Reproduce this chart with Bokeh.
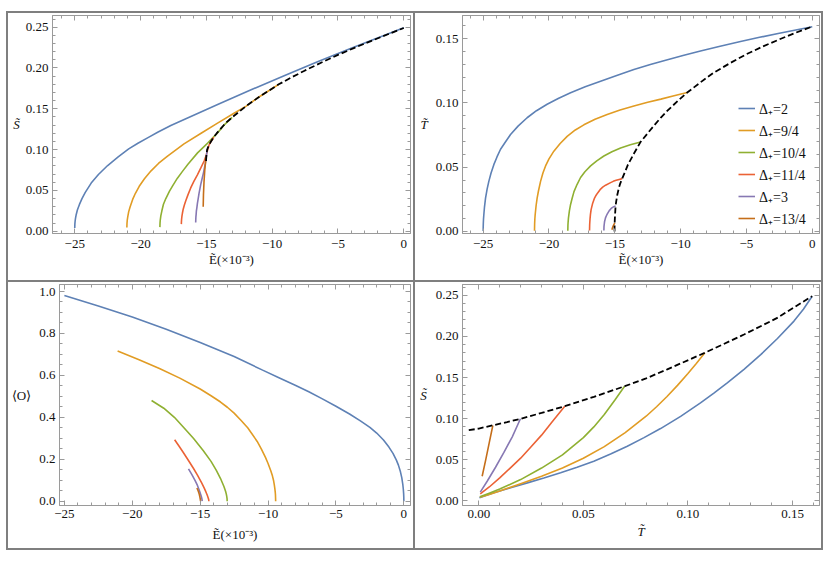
from bokeh.plotting import figure
from bokeh.models import (Range1d, LinearAxis, SingleIntervalTicker, CustomJSTickFormatter,
                          Legend, LegendItem, Spacer)
from bokeh.layouts import row, column
from bokeh.embed import file_html
from bokeh.resources import INLINE

# ---------------- data ----------------
labels = ["Δ₊=2", "Δ₊=9/4", "Δ₊=10/4", "Δ₊=11/4", "Δ₊=3", "Δ₊=13/4"]
colors = ["#5E81B5", "#E19C24", "#8FB032", "#EB6235", "#8778B3", "#C56E1A"]

# top-left: S vs E (x10^-3)
tl_blue_E = [-25.0, -24.99, -24.97, -24.94, -24.9, -24.8, -24.65, -24.45, -24.2, -23.75, -23.2, -22.5, -21.7, -20.9, -20.2, -19.4, -18.7, -17.7, -16.6, -14.1, -11.6, -9.0, -6.6, -4.0, -2.0, 0.0]
tl_blue_S = [0.004, 0.009, 0.0125, 0.016, 0.0195, 0.026, 0.0325, 0.040, 0.0475, 0.059, 0.0695, 0.0805, 0.091, 0.1008, 0.1078, 0.115, 0.1212, 0.1295, 0.1375, 0.1555, 0.1733, 0.1912, 0.2073, 0.2242, 0.2368, 0.2492]
tl_orange_E = [-21.04, -21.03, -21.01, -20.97, -20.9, -20.79, -20.6, -20.39, -20.1, -19.69, -19.2, -18.64, -17.95, -16.7, -15.4, -14.15, -12.9, -12.0, -11.0, -10.2, -9.5]
tl_orange_S = [0.0045, 0.0097, 0.0135, 0.018, 0.024, 0.030, 0.039, 0.0465, 0.055, 0.0645, 0.074, 0.083, 0.092, 0.107, 0.120, 0.1325, 0.1445, 0.153, 0.1645, 0.1727, 0.180]
tl_green_E = [-18.53, -18.52, -18.5, -18.46, -18.38, -18.26, -18.08, -17.8, -17.53, -17.2, -16.83, -16.4, -15.67, -14.9, -14.15, -13.6, -13.04]
tl_green_S = [0.005, 0.0102, 0.014, 0.0187, 0.025, 0.033, 0.040, 0.049, 0.0565, 0.065, 0.073, 0.082, 0.096, 0.108, 0.1205, 0.131, 0.1395]
tl_red_E = [-16.9, -16.895, -16.88, -16.855, -16.82, -16.76, -16.67, -16.57, -16.4, -16.19, -15.95, -15.68, -15.42, -15.17, -15.03, -14.92, -14.8, -14.6, -14.44]
tl_red_S = [0.0087, 0.0115, 0.015, 0.0185, 0.022, 0.027, 0.032, 0.037, 0.0445, 0.053, 0.061, 0.069, 0.0775, 0.086, 0.092, 0.0985, 0.1055, 0.1112, 0.1152]
tl_purple_E = [-15.81, -15.805, -15.795, -15.775, -15.76, -15.72, -15.68, -15.62, -15.56, -15.43, -15.33, -15.22, -15.08, -14.99, -14.94]
tl_purple_S = [0.0107, 0.014, 0.0175, 0.021, 0.0245, 0.029, 0.034, 0.040, 0.046, 0.057, 0.064, 0.0715, 0.083, 0.093, 0.0999]
tl_brown_E = [-15.24, -15.22, -15.18, -15.12, -15.06, -15.01]
tl_brown_S = [0.030, 0.045, 0.060, 0.075, 0.085, 0.0917]
tl_dash_E = [-15.02, -15.018, -15.012, -15.0, -14.985, -14.97, -14.94, -14.88, -14.8, -14.7, -14.6, -14.44, -14.22, -14.0, -13.75, -13.5, -13.04, -12.5, -12.0, -11.0, -10.2, -9.5, -8.5, -7.5, -6.25, -5.0, -3.75, -2.5, -1.25, 0.0]
tl_dash_S = [0.086, 0.0878, 0.0898, 0.0917, 0.0945, 0.0965, 0.0999, 0.1025, 0.1055, 0.1085, 0.1112, 0.1152, 0.1198, 0.124, 0.1286, 0.133, 0.1395, 0.1465, 0.153, 0.1645, 0.1727, 0.180, 0.1887, 0.197, 0.2067, 0.216, 0.2247, 0.233, 0.241, 0.249]

# top-right: T vs E
tr_blue_E = [-25.0, -24.997, -24.99, -24.975, -24.95, -24.9, -24.82, -24.7, -24.57, -24.4, -24.19, -23.95, -23.68, -23.35, -22.92, -22.35, -21.66, -20.95, -20.14, -19.3, -18.36, -17.25, -16.08, -14.8, -13.55, -12.3, -11.0, -9.75, -8.49, -7.0, -5.45, -4.0, -2.5, -1.25, 0.0]
tr_blue_T = [0.0003, 0.0035, 0.006, 0.0095, 0.013, 0.019, 0.026, 0.033, 0.039, 0.0455, 0.052, 0.058, 0.064, 0.069, 0.0755, 0.082, 0.0885, 0.094, 0.099, 0.1035, 0.108, 0.1126, 0.117, 0.1216, 0.126, 0.130, 0.1337, 0.1372, 0.1405, 0.1442, 0.1478, 0.1511, 0.1543, 0.1568, 0.1593]
tr_orange_E = [-21.1, -21.09, -21.075, -21.05, -20.98, -20.9, -20.8, -20.64, -20.46, -20.26, -20.0, -19.63, -19.15, -18.62, -18.0, -17.35, -16.5, -15.58, -14.6, -13.55, -12.5, -11.5, -10.5, -9.5]
tr_orange_T = [0.0005, 0.006, 0.0095, 0.013, 0.020, 0.026, 0.0315, 0.039, 0.0455, 0.051, 0.0565, 0.0625, 0.0685, 0.074, 0.079, 0.083, 0.0873, 0.091, 0.0945, 0.0976, 0.1005, 0.103, 0.1056, 0.1081]
tr_green_E = [-18.57, -18.56, -18.545, -18.52, -18.45, -18.36, -18.25, -18.1, -17.87, -17.6, -17.27, -16.84, -16.37, -15.83, -15.22, -14.56, -13.82, -13.04]
tr_green_T = [0.0005, 0.005, 0.0075, 0.0106, 0.016, 0.021, 0.0255, 0.031, 0.0365, 0.042, 0.0465, 0.051, 0.055, 0.0587, 0.062, 0.065, 0.0675, 0.0697]
tr_red_E = [-16.92, -16.91, -16.9, -16.88, -16.85, -16.8, -16.68, -16.54, -16.42, -16.3, -16.08, -15.92, -15.7, -15.32, -15.12, -14.9, -14.67, -14.44]
tr_red_T = [0.0007, 0.005, 0.007, 0.010, 0.0133, 0.017, 0.022, 0.026, 0.0282, 0.030, 0.033, 0.0345, 0.036, 0.038, 0.039, 0.0398, 0.0405, 0.0411]
tr_purple_E = [-15.83, -15.825, -15.82, -15.8, -15.78, -15.74, -15.70, -15.64, -15.58, -15.5, -15.42, -15.31, -15.2, -15.07, -14.94]
tr_purple_T = [0.0007, 0.0025, 0.004, 0.0058, 0.0075, 0.0092, 0.0108, 0.0122, 0.0135, 0.0149, 0.0162, 0.0175, 0.0185, 0.0193, 0.0199]
tr_brown_E = [-15.22, -15.17, -15.1, -15.0]
tr_brown_T = [0.0013, 0.003, 0.0048, 0.0067]
tr_dash_E = [-15.02, -15.018, -15.012, -15.0, -14.97, -14.94, -14.89, -14.8, -14.7, -14.6, -14.44, -14.22, -14.0, -13.5, -13.04, -12.5, -12.0, -11.5, -11.0, -10.2, -9.5, -8.5, -7.5, -6.25, -5.0, -3.75, -2.5, -1.25, 0.0]
tr_dash_T = [0.0, 0.003, 0.0058, 0.0093, 0.0148, 0.0199, 0.0236, 0.029, 0.0335, 0.037, 0.0411, 0.0465, 0.052, 0.0615, 0.0697, 0.0765, 0.0827, 0.0886, 0.094, 0.1018, 0.1081, 0.116, 0.1235, 0.131, 0.138, 0.144, 0.1495, 0.1547, 0.1595]

# bottom-left: <O> vs E
bl_blue_E = [-25.0, -22.5, -20.0, -17.5, -15.0, -12.5, -10.4, -9.2, -8.0, -7.0, -6.0, -5.0, -4.0, -3.2, -2.5, -2.0, -1.5, -1.1, -0.8, -0.55, -0.4, -0.25, -0.15, -0.08, -0.04, -0.015, -0.004, 0.0]
bl_blue_O = [0.981, 0.931, 0.878, 0.820, 0.757, 0.690, 0.625, 0.589, 0.553, 0.522, 0.488, 0.453, 0.416, 0.383, 0.352, 0.325, 0.292, 0.258, 0.228, 0.196, 0.172, 0.140, 0.111, 0.082, 0.058, 0.036, 0.019, 0.0]
bl_orange_E = [-21.08, -19.5, -18.0, -16.5, -15.0, -14.2, -13.5, -13.0, -12.5, -12.0, -11.5, -10.8, -10.5, -10.2, -10.0, -9.8, -9.68, -9.6, -9.54, -9.5, -9.47, -9.455, -9.44]
bl_orange_O = [0.716, 0.675, 0.633, 0.587, 0.535, 0.503, 0.473, 0.448, 0.420, 0.386, 0.350, 0.285, 0.250, 0.210, 0.180, 0.145, 0.121, 0.100, 0.078, 0.060, 0.0425, 0.030, 0.0]
bl_green_E = [-18.58, -17.68, -16.9, -16.23, -15.5, -14.78, -14.2, -13.81, -13.5, -13.36, -13.25, -13.18, -13.12, -13.08, -13.05, -13.02, -13.01]
bl_green_O = [0.48, 0.4435, 0.40, 0.353, 0.30, 0.242, 0.190, 0.147, 0.108, 0.087, 0.070, 0.057, 0.045, 0.035, 0.025, 0.0125, 0.0]
bl_red_E = [-16.88, -16.55, -16.23, -15.85, -15.5, -15.2, -14.89, -14.7, -14.61, -14.53, -14.47, -14.42, -14.39, -14.37, -14.36]
bl_red_O = [0.293, 0.262, 0.231, 0.193, 0.157, 0.124, 0.087, 0.062, 0.049, 0.037, 0.027, 0.018, 0.012, 0.007, 0.0]
bl_purple_E = [-15.86, -15.62, -15.38, -15.2, -15.06, -14.95, -14.91, -14.88, -14.86, -14.85]
bl_purple_O = [0.154, 0.128, 0.099, 0.075, 0.051, 0.030, 0.021, 0.013, 0.006, 0.0]
bl_brown_E = [-15.24, -15.15, -15.07, -15.02, -14.99, -14.97]
bl_brown_O = [0.063, 0.050, 0.034, 0.020, 0.009, 0.0]

# bottom-right: S vs T
br_blue_T = [0.0003, 0.0072, 0.0152, 0.0232, 0.0311, 0.0391, 0.047, 0.055, 0.063, 0.071, 0.079, 0.0869, 0.0965, 0.106, 0.1124, 0.1188, 0.1268, 0.1348, 0.1428, 0.1507, 0.1552, 0.1594]
br_blue_S = [0.0039, 0.0099, 0.016, 0.022, 0.028, 0.0343, 0.041, 0.0484, 0.057, 0.0666, 0.077, 0.088, 0.1029, 0.1192, 0.1310, 0.1435, 0.1600, 0.1778, 0.1975, 0.2186, 0.2330, 0.2489]
br_orange_T = [0.0005, 0.005, 0.010, 0.020, 0.030, 0.040, 0.050, 0.060, 0.070, 0.080, 0.085, 0.090, 0.095, 0.100, 0.104, 0.1081]
br_orange_S = [0.0045, 0.008, 0.012, 0.021, 0.030, 0.040, 0.052, 0.066, 0.083, 0.103, 0.1145, 0.127, 0.1405, 0.155, 0.167, 0.180]
br_green_T = [0.0005, 0.005, 0.010, 0.020, 0.030, 0.040, 0.050, 0.055, 0.060, 0.065, 0.0697]
br_green_S = [0.005, 0.0095, 0.0145, 0.026, 0.040, 0.056, 0.077, 0.090, 0.105, 0.1225, 0.1395]
br_red_T = [0.0007, 0.005, 0.010, 0.015, 0.020, 0.025, 0.030, 0.035, 0.0411]
br_red_S = [0.0087, 0.017, 0.028, 0.040, 0.052, 0.066, 0.080, 0.096, 0.1152]
br_purple_T = [0.0007, 0.004, 0.008, 0.012, 0.016, 0.0199]
br_purple_S = [0.0107, 0.024, 0.041, 0.059, 0.078, 0.0999]
br_brown_T = [0.0016, 0.0033, 0.005, 0.0067]
br_brown_S = [0.030, 0.050, 0.071, 0.0917]
br_dash_T = [-0.0048, 0.0, 0.0067, 0.0135, 0.0204, 0.0300, 0.0411, 0.055, 0.0698, 0.080, 0.0901, 0.108, 0.1268, 0.1427, 0.1594]
br_dash_S = [0.086, 0.088, 0.092, 0.0958, 0.1002, 0.1070, 0.1152, 0.1265, 0.1395, 0.149, 0.160, 0.180, 0.2023, 0.2225, 0.2489]

# ---------------- styling ----------------
FONT = "Liberation Serif"
TSIZE = "13px"
LSIZE = "13px"
FRAME_GRAY = "#9a9a9a"
BOX_GRAY = "#7f7f7f"
TEXT = "#111111"
LW = 1.6


def fmt(decimals):
    return CustomJSTickFormatter(code=f"""
        const v = Math.abs(tick) < 1e-9 ? 0 : tick;
        const s = Math.abs(v).toFixed({decimals});
        return (v < 0 ? "\\u2212" : "") + s;
    """)


def base_axis(ax, interval, nminor):
    ax.ticker = SingleIntervalTicker(interval=interval, num_minor_ticks=nminor)
    ax.axis_line_color = FRAME_GRAY
    ax.major_tick_line_color = FRAME_GRAY
    ax.minor_tick_line_color = FRAME_GRAY
    ax.major_tick_in = 5
    ax.major_tick_out = 0
    ax.minor_tick_in = 3
    ax.minor_tick_out = 0


def make_fig(width, height, xr, yr, borders, xint, xmin, yint, ymin, xdec, ydec, xlabel, ylabel,
             xitalic, yitalic, x_lab_standoff, x_axlab_standoff, y_axlab_standoff):
    left, right, top, bottom = borders
    p = figure(width=width, height=height, x_range=Range1d(*xr), y_range=Range1d(*yr),
               output_backend="svg", toolbar_location=None,
               min_border_left=left, min_border_right=right,
               min_border_top=top, min_border_bottom=bottom)
    p.grid.visible = False
    p.outline_line_color = FRAME_GRAY
    p.background_fill_color = "white"
    p.border_fill_color = "white"

    xa = p.xaxis[0]
    base_axis(xa, xint, xmin)
    xa.formatter = fmt(xdec)
    xa.major_label_text_font = FONT
    xa.major_label_text_font_size = TSIZE
    xa.major_label_text_color = TEXT
    xa.major_label_standoff = x_lab_standoff
    xa.axis_label = xlabel
    xa.axis_label_text_font = FONT
    xa.axis_label_text_font_size = LSIZE
    xa.axis_label_text_font_style = "italic" if xitalic else "normal"
    xa.axis_label_text_color = TEXT
    xa.axis_label_standoff = x_axlab_standoff

    ya = p.yaxis[0]
    base_axis(ya, yint, ymin)
    ya.formatter = fmt(ydec)
    ya.major_label_text_font = FONT
    ya.major_label_text_font_size = TSIZE
    ya.major_label_text_color = TEXT
    ya.major_label_standoff = 4
    ya.axis_label = ylabel
    ya.axis_label_orientation = "horizontal"
    ya.axis_label_text_font = FONT
    ya.axis_label_text_font_size = LSIZE
    ya.axis_label_text_font_style = "italic" if yitalic else "normal"
    ya.axis_label_text_color = TEXT
    ya.axis_label_standoff = y_axlab_standoff

    top_ax = LinearAxis()
    base_axis(top_ax, xint, xmin)
    top_ax.major_label_text_color = None
    top_ax.axis_label = None
    p.add_layout(top_ax, "above")
    right_ax = LinearAxis()
    base_axis(right_ax, yint, ymin)
    right_ax.major_label_text_color = None
    right_ax.axis_label = None
    p.add_layout(right_ax, "right")
    return p


E_LABEL = "Ẽ(×10⁻³)"
S_LABEL = "S\u0303"
T_LABEL = "T\u0303"

p1 = make_fig(405, 267, (-26.69, 0.51), (-0.0028, 0.2643), (44, 3, 2, 47), 5, 5, 0.05, 5, 0, 2,
              E_LABEL, S_LABEL, False, True, 6, 1, 3)
p2 = make_fig(406, 267, (-26.57, 0.55), (-0.0016, 0.1681), (47, 2, 2, 47), 5, 5, 0.05, 5, 0, 2,
              E_LABEL, T_LABEL, False, True, 6, 1, 5)
p3 = make_fig(405, 266, (-25.36, 0.49), (-0.0205, 1.0334), (46, 3, 2, 43), 5, 5, 0.2, 4, 0, 1,
              E_LABEL, "⟨O⟩", False, False, 4, 6, 5)
p4 = make_fig(406, 266, (-0.0078, 0.1629), (-0.0055, 0.2631), (47, 2, 2, 43), 0.05, 5, 0.05, 5, 2, 2,
              T_LABEL, S_LABEL, True, True, 4, 3, 6)

tl = [(tl_blue_E, tl_blue_S), (tl_orange_E, tl_orange_S), (tl_green_E, tl_green_S),
      (tl_red_E, tl_red_S), (tl_purple_E, tl_purple_S), (tl_brown_E, tl_brown_S)]
tr = [(tr_blue_E, tr_blue_T), (tr_orange_E, tr_orange_T), (tr_green_E, tr_green_T),
      (tr_red_E, tr_red_T), (tr_purple_E, tr_purple_T), (tr_brown_E, tr_brown_T)]
bl = [(bl_blue_E, bl_blue_O), (bl_orange_E, bl_orange_O), (bl_green_E, bl_green_O),
      (bl_red_E, bl_red_O), (bl_purple_E, bl_purple_O), (bl_brown_E, bl_brown_O)]
br = [(br_blue_T, br_blue_S), (br_orange_T, br_orange_S), (br_green_T, br_green_S),
      (br_red_T, br_red_S), (br_purple_T, br_purple_S), (br_brown_T, br_brown_S)]

for (xs, ys), c in zip(tl, colors):
    p1.line(xs, ys, line_color=c, line_width=LW)
p1.line(tl_dash_E, tl_dash_S, line_color="black", line_width=1.8, line_dash="6 3")

tr_renderers = []
for (xs, ys), c in zip(tr, colors):
    tr_renderers.append(p2.line(xs, ys, line_color=c, line_width=LW))
p2.line(tr_dash_E, tr_dash_T, line_color="black", line_width=1.8, line_dash="6 3")

for (xs, ys), c in zip(bl, colors):
    p3.line(xs, ys, line_color=c, line_width=LW)

for (xs, ys), c in zip(br, colors):
    p4.line(xs, ys, line_color=c, line_width=LW)
p4.line(br_dash_T, br_dash_S, line_color="black", line_width=1.8, line_dash="6 3")

legend = Legend(items=[LegendItem(label=l, renderers=[r]) for l, r in zip(labels, tr_renderers)],
                location=(276, 5))
legend.border_line_color = None
legend.background_fill_alpha = 0
legend.padding = 0
legend.margin = 0
legend.spacing = 2
legend.label_height = 20
legend.glyph_height = 20
legend.glyph_width = 17
legend.label_standoff = 4
legend.label_text_font = FONT
legend.label_text_font_size = "14px"
legend.label_text_color = TEXT
p2.add_layout(legend)

LINE = {"background-color": BOX_GRAY}


def hline():
    return Spacer(width=817, height=2, styles=LINE)


def vline(h):
    return Spacer(width=2, height=h, styles=LINE)


grid = column(
    hline(),
    row(vline(267), p1, vline(267), p2, vline(267)),
    hline(),
    row(vline(266), p3, vline(266), p4, vline(266)),
    hline(),
)
layout = column(Spacer(width=823, height=11), row(Spacer(width=6, height=539), grid))

with open("out.html", "w", encoding="utf-8") as f:
    f.write(file_html(layout, INLINE, title="plot"))
